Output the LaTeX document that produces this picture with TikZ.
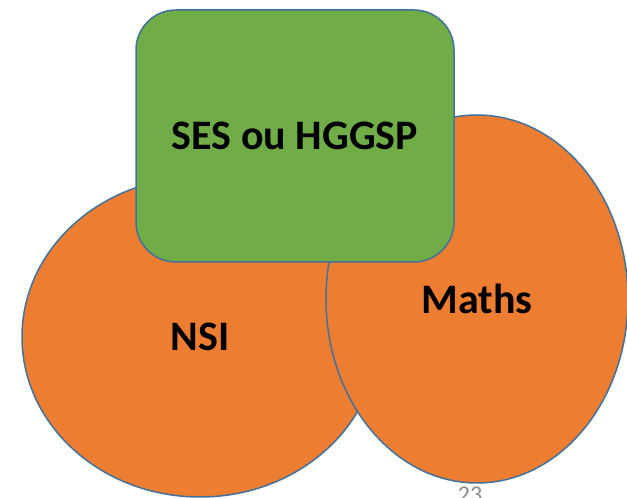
\documentclass[tikz,border=0pt]{standalone}
\usepackage{fontspec}
\setmainfont{Carlito}
\usetikzlibrary{shapes.geometric}

\definecolor{specOrange}{HTML}{ED7D31}
\definecolor{specGreen}{HTML}{70AD47}
\definecolor{specEdge}{HTML}{41719C}
\definecolor{pageGray}{HTML}{8C8C8C}

\begin{document}
\begin{tikzpicture}[x=1pt, y=1pt,
	bubble/.style={ellipse, draw=specEdge, line width=1.5pt, fill=specOrange, inner sep=0pt, font=\fontsize{42}{46}\selectfont\bfseries},
	choice/.style={rectangle, rounded corners=40pt, draw=specEdge, line width=1.5pt, fill=specGreen, inner sep=0pt, font=\fontsize{42}{46}\selectfont\bfseries}]
	\useasboundingbox (0,0) rectangle (627,498);

	\node[bubble, minimum width=356pt, minimum height=320pt] (nsi) at (200,161) {NSI};
	\node[bubble, minimum width=302pt, minimum height=368pt] (maths) at (477,199) {Maths};
	\node[choice, minimum width=318pt, minimum height=252pt] (ses) at (295,362) {SES ou HGGSP};

	\node[anchor=north, inner sep=0pt, text=pageGray, font=\fontsize{24}{26}\selectfont] (page) at (470,11) {23};
\end{tikzpicture}
\end{document}
